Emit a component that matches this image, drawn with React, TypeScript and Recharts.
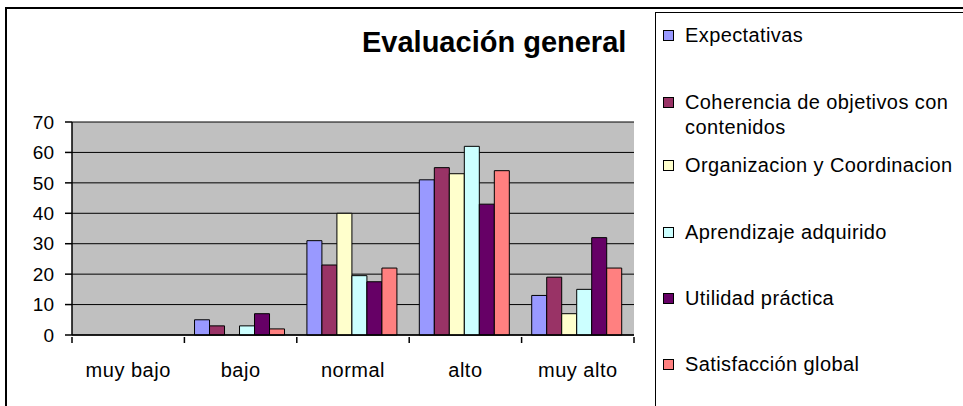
import { BarChart, Bar, XAxis, YAxis, CartesianGrid } from 'recharts'

const categories = ['muy bajo', 'bajo', 'normal', 'alto', 'muy alto']
const expectativas = [0, 5, 31, 51, 13]
const coherencia = [0, 3, 23, 55, 19]
const organizacion = [0, 0, 40, 53, 7]
const aprendizaje = [0, 3, 19.5, 62, 15]
const utilidad = [0, 7, 17.5, 43, 32]
const satisfaccion = [0, 2, 22, 54, 22]
const yTicks = [0, 10, 20, 30, 40, 50, 60, 70]

const series = [
  { key: 'exp', name: 'Expectativas', values: expectativas, color: '#9999FF' },
  { key: 'coh', name: 'Coherencia de objetivos con contenidos', values: coherencia, color: '#993366' },
  { key: 'org', name: 'Organizacion y Coordinacion', values: organizacion, color: '#FFFFCC' },
  { key: 'apr', name: 'Aprendizaje adquirido', values: aprendizaje, color: '#CCFFFF' },
  { key: 'uti', name: 'Utilidad práctica', values: utilidad, color: '#660066' },
  { key: 'sat', name: 'Satisfacción global', values: satisfaccion, color: '#FF8080' },
]

const data = categories.map((cat, i) => {
  const row: Record<string, string | number> = { cat }
  series.forEach((s) => (row[s.key] = s.values[i]))
  return row
})

// vertical place of each legend entry (first line centre)
const legendTops = [35, 102, 165, 232, 298, 364]

const font = '"Liberation Sans", Arial, sans-serif'

// category label plus tick marks on the category boundaries
function CatTick(props: any) {
  const { x, y, payload, index } = props
  const half = payload.offset || 0
  const last = index === categories.length - 1
  return (
    <g>
      <line x1={x - half} x2={x - half} y1={y} y2={y + 6} stroke="#000" strokeWidth={1.5} />
      {last && <line x1={x + half} x2={x + half} y1={y} y2={y + 6} stroke="#000" strokeWidth={1.5} />}
      <text
        x={x}
        y={y + 40}
        textAnchor="middle"
        fontSize={20}
        fontFamily={font}
        letterSpacing={0.5}
        fill="#000"
      >
        {payload.value}
      </text>
    </g>
  )
}

export default function App() {
  return (
    <div
      style={{
        position: 'absolute',
        left: 0,
        top: 0,
        width: 963,
        height: 406,
        overflow: 'hidden',
        background: '#fff',
        fontFamily: font,
      }}
    >
      {/* outer frame */}
      <div
        style={{
          position: 'absolute',
          left: 5,
          top: 7,
          width: 1000,
          height: 450,
          border: '2px solid #000',
        }}
      />

      <div
        style={{
          position: 'absolute',
          left: 362,
          top: 28,
          fontSize: 29,
          lineHeight: '29px',
          fontWeight: 'bold',
          whiteSpace: 'nowrap',
        }}
      >
        Evaluación general
      </div>

      <div style={{ position: 'absolute', left: 0, top: 0 }}>
        <BarChart
          width={963}
          height={406}
          data={data}
          margin={{ top: 122, right: 329, bottom: 21, left: 12 }}
          barCategoryGap="9%"
          barGap={0}
        >
          <CartesianGrid vertical={false} stroke="#000" fill="#C0C0C0" fillOpacity={1} />
          <XAxis
            dataKey="cat"
            height={50}
            interval={0}
            axisLine={{ stroke: '#000', strokeWidth: 1.5 }}
            tickLine={false}
            tickSize={0}
            tick={<CatTick />}
          />
          <YAxis
            width={60}
            domain={[0, 70]}
            ticks={yTicks}
            interval={0}
            tickSize={7}
            tickMargin={11}
            axisLine={{ stroke: '#000', strokeWidth: 1.5 }}
            tickLine={{ stroke: '#000', strokeWidth: 1.5 }}
            tick={{ fontSize: 19, fill: '#000', fontFamily: font }}
          />
          {series.map((s) => (
            <Bar
              key={s.key}
              dataKey={s.key}
              name={s.name}
              fill={s.color}
              stroke="#000"
              strokeWidth={1}
              isAnimationActive={false}
            />
          ))}
        </BarChart>
      </div>

      {/* Legend */}
      <div
        style={{
          position: 'absolute',
          left: 655,
          top: 12,
          width: 400,
          height: 450,
          borderLeft: '1px solid #000',
          borderTop: '1px solid #000',
        }}
      />
      {series.map((s, i) => (
        <div
          key={s.key}
          style={{
            position: 'absolute',
            left: 663,
            top: legendTops[i] - 12,
            display: 'flex',
            alignItems: 'flex-start',
          }}
        >
          <div
            style={{
              width: 9,
              height: 9,
              marginTop: 7,
              background: s.color,
              border: '1px solid #000',
              flexShrink: 0,
            }}
          />
          <div
            style={{
              marginLeft: 11,
              width: 285,
              fontSize: 20,
              lineHeight: '25px',
              letterSpacing: 0.4,
            }}
          >
            {s.name}
          </div>
        </div>
      ))}
    </div>
  )
}
